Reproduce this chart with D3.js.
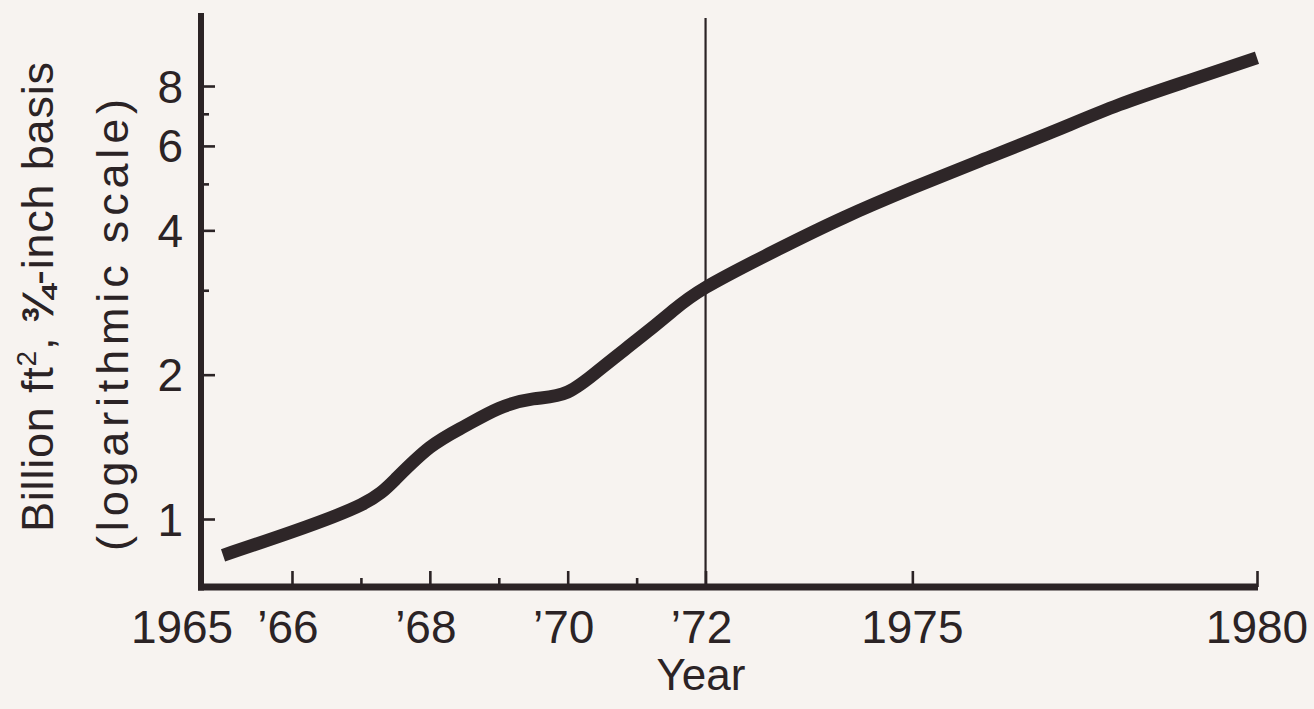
<!DOCTYPE html>
<html>
<head>
<meta charset="utf-8">
<script src="https://cdn.jsdelivr.net/npm/d3@7"></script>
<style>
  html, body { margin: 0; padding: 0; background: #f7f3f0; }
  svg { display: block; }
  text { font-family: "Liberation Sans", "Open Sans", sans-serif; fill: #2b2325; }
</style>
</head>
<body>
<svg id="chart" width="1314" height="709"></svg>
<script>
// ---- data ----
const years  = [1965, 1966, 1967, 1967.5, 1968, 1968.5, 1969, 1969.5, 1970, 1970.5, 1971, 1971.5, 1972, 1973, 1974, 1975, 1976, 1977, 1978, 1979, 1980];
const values = [0.84, 0.94, 1.07, 1.21, 1.41, 1.56, 1.70, 1.78, 1.84, 2.07, 2.36, 2.70, 3.04, 3.62, 4.25, 4.90, 5.60, 6.39, 7.31, 8.20, 9.16];

const xTickYears   = [1966, 1967, 1968, 1969, 1970, 1971, 1972, 1975, 1980];
const xMajorYears  = [1966, 1968, 1970, 1972, 1975, 1980];
const xLabelYears  = [1965, 1966, 1968, 1970, 1972, 1975, 1980];
const xLabelTexts  = ["1965", "\u201966", "\u201968", "\u201970", "\u201972", "1975", "1980"];
const yTickValues  = [1, 2, 3, 4, 5, 6, 7, 8];
const yMajorValues = [1, 2, 4, 6, 8];
const yLabelTexts  = ["1", "2", "4", "6", "8"];
const markerYear   = 1972;
const yTitle1 = ["Billion ft", "2", ", ", "\u00BE", "-inch basis"];
const yTitle2 = "(logarithmic scale)";
const xTitle  = "Year";

// ---- drawing ----
const ink = "#2b2325";
const svg = d3.select("#chart");

const x = d3.scaleLinear().domain([1964.68, 1980]).range([201, 1257]);
const y = d3.scaleLog().domain([0.7214, 11.36]).range([587, 13]);

// vertical marker line at 1972
svg.append("line")
  .attr("x1", x(markerYear)).attr("x2", x(markerYear))
  .attr("y1", 18).attr("y2", y.range()[0])
  .attr("stroke", ink).attr("stroke-width", 2.2);

// data line
const pts = years.map((yr, i) => [yr, values[i]]);
svg.append("path")
  .datum(pts)
  .attr("fill", "none")
  .attr("stroke", "#2e2628")
  .attr("stroke-width", 13)
  .attr("stroke-linecap", "butt")
  .attr("d", d3.line().x(d => x(d[0])).y(d => y(d[1])).curve(d3.curveNatural));

// X axis ticks (upward)
const xAxisG = svg.append("g").attr("transform", `translate(0,${y.range()[0]})`)
  .call(d3.axisTop(x).tickValues(xTickYears).tickSizeOuter(0).tickSizeInner(16).tickFormat(""));
xAxisG.select(".domain").remove();
xAxisG.selectAll(".tick line")
  .attr("stroke", ink)
  .attr("stroke-width", 2.6)
  .attr("y2", d => xMajorYears.includes(d) ? -16 : -9);

// Y axis ticks (to the right)
const yAxisG = svg.append("g").attr("transform", `translate(${x.range()[0]},0)`)
  .call(d3.axisRight(y).tickValues(yTickValues).tickSizeOuter(0).tickSizeInner(14).tickFormat(""));
yAxisG.select(".domain").remove();
yAxisG.selectAll(".tick line")
  .attr("stroke", ink)
  .attr("stroke-width", 2.6)
  .attr("x2", d => yMajorValues.includes(d) ? 14 : 8);

// axis lines
svg.append("line")
  .attr("x1", x.range()[0] - 3).attr("x2", x(1980) + 1)
  .attr("y1", y.range()[0]).attr("y2", y.range()[0])
  .attr("stroke", ink).attr("stroke-width", 7);
svg.append("line")
  .attr("x1", x.range()[0]).attr("x2", x.range()[0])
  .attr("y1", y.range()[1]).attr("y2", y.range()[0] + 3.5)
  .attr("stroke", ink).attr("stroke-width", 6);

// X tick labels
svg.append("g").selectAll("text")
  .data(xLabelYears)
  .join("text")
  .attr("x", d => d === 1965 ? x(1965) - 41 : x(d) - (xLabelTexts[xLabelYears.indexOf(d)].startsWith("\u2019") ? 4 : 0))
  .attr("y", 643)
  .attr("text-anchor", "middle")
  .attr("font-size", 46)
  .text((d, i) => xLabelTexts[i]);

// Y tick labels
svg.append("g").selectAll("text")
  .data(yMajorValues)
  .join("text")
  .attr("x", 183)
  .attr("y", d => y(d))
  .attr("dy", "0.36em")
  .attr("text-anchor", "end")
  .attr("font-size", 46)
  .text((d, i) => yLabelTexts[i]);

// X title
svg.append("text")
  .attr("x", 701).attr("y", 690)
  .attr("text-anchor", "middle")
  .attr("font-size", 44)
  .text(xTitle);

// Y title line 1
const t1 = svg.append("text")
  .attr("transform", "translate(53,297) rotate(-90)")
  .attr("text-anchor", "middle")
  .attr("font-size", 45)
  .attr("textLength", 470)
  .attr("lengthAdjust", "spacing");
t1.append("tspan").text(yTitle1[0]);
t1.append("tspan").attr("font-size", 28).attr("dy", -17).text(yTitle1[1]);
t1.append("tspan").attr("dy", 17).text(yTitle1[2]);
t1.append("tspan").attr("font-weight", "bold").text(yTitle1[3]);
t1.append("tspan").text(yTitle1[4]);

// Y title line 2
svg.append("text")
  .attr("transform", "translate(128,325) rotate(-90)")
  .attr("text-anchor", "middle")
  .attr("font-size", 45)
  .attr("textLength", 452)
  .attr("lengthAdjust", "spacing")
  .text(yTitle2);
</script>
</body>
</html>
